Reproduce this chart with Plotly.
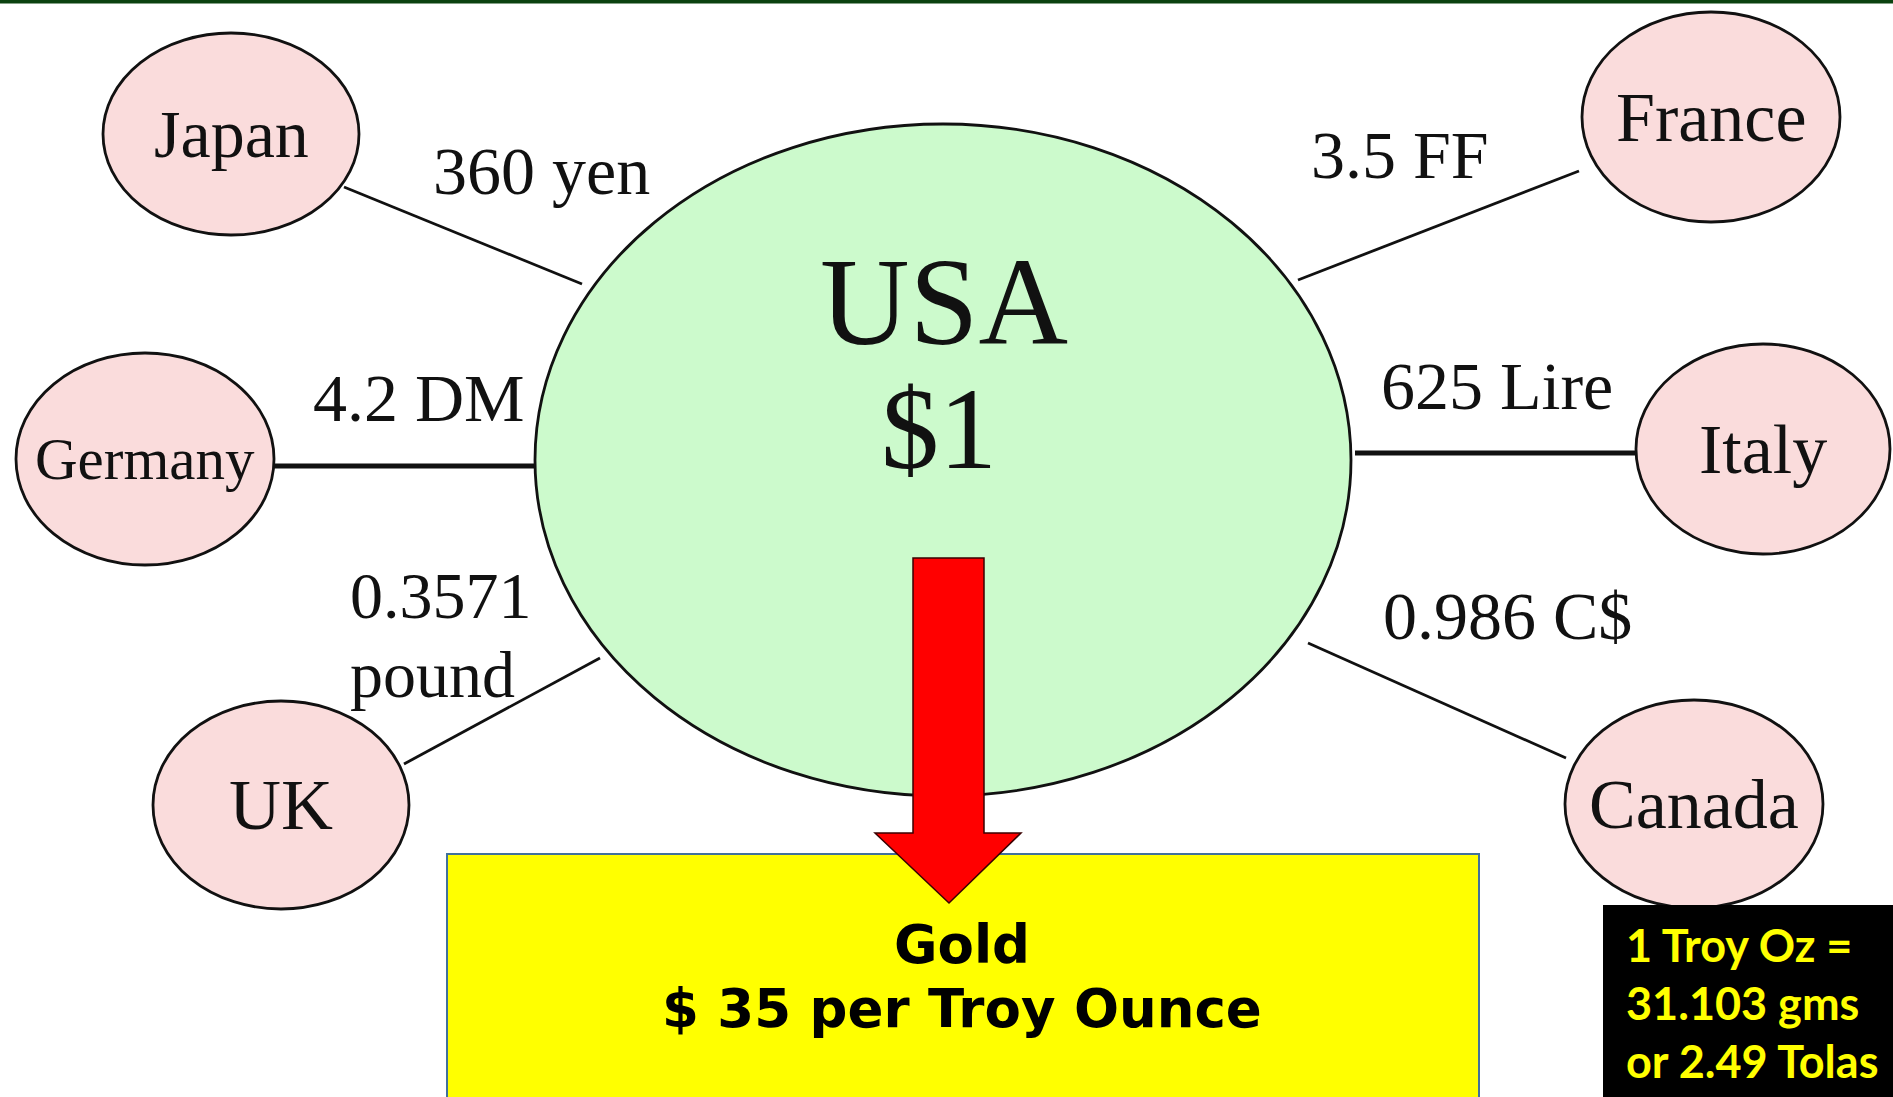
import plotly.graph_objects as go

# ---- data ----
countries = ["Japan", "France", "Germany", "Italy", "UK", "Canada"]
rates = ["360 yen", "3.5 FF", "4.2 DM", "625 Lire", "0.3571", "0.986 C$"]
rate_units_extra = ["", "", "", "", "pound", ""]
center_label = ["USA", "$1"]
gold_lines = ["Gold", "$ 35 per Troy Ounce"]
note_lines = ["1 Troy Oz =", "31.103 gms", "or 2.49 Tolas"]

# ---- layout geometry (pixels, y downward) ----
W, H = 1893, 1097
node_pos = {  # cx, cy, rx, ry
    "Japan": (231, 134, 128, 101),
    "France": (1711, 117, 129, 105),
    "Germany": (145, 459, 129, 106),
    "Italy": (1763, 449, 127, 105),
    "UK": (281, 805, 128, 104),
    "Canada": (1694, 804, 129, 104),
}
name_size = {"Japan": 68, "France": 70, "Germany": 59, "Italy": 70, "UK": 72, "Canada": 70}
usa_pos = (943, 460, 408, 336)
edges = {  # x0, y0, x1, y1, width
    "Japan": (344, 187, 582, 284, 2.8),
    "France": (1579, 171, 1298, 280, 2.8),
    "Germany": (273, 466, 535, 466, 5),
    "Italy": (1636, 453, 1355, 453, 5),
    "UK": (404, 764, 600, 658, 2.8),
    "Canada": (1566, 758, 1308, 643, 2.8),
}
rate_pos = {
    "Japan": (541, 171, "center"),
    "France": (1400, 155, "center"),
    "Germany": (419, 398, "center"),
    "Italy": (1497, 386, "center"),
    "UK": (348, 595, "left"),
    "Canada": (1507, 616, "center"),
}

fig = go.Figure()
fig.add_trace(go.Scatter(x=[0, W], y=[0, H], mode="markers",
                         marker=dict(opacity=0), hoverinfo="skip", showlegend=False))

shapes = []
# top border
shapes.append(dict(type="rect", xref="x", yref="y", x0=0, x1=W, y0=0, y1=3.5,
                   fillcolor="#0b420f", line=dict(width=0)))
# edges
for c in countries:
    x0, y0, x1, y1, w = edges[c]
    shapes.append(dict(type="line", xref="x", yref="y", x0=x0, y0=y0, x1=x1, y1=y1,
                       line=dict(color="#111111", width=w)))
# USA node
cx, cy, rx, ry = usa_pos
shapes.append(dict(type="circle", xref="x", yref="y", x0=cx - rx, x1=cx + rx,
                   y0=cy - ry, y1=cy + ry, fillcolor="#ccfacc",
                   line=dict(color="#111111", width=2.8)))
# country nodes
for c in countries:
    cx, cy, rx, ry = node_pos[c]
    shapes.append(dict(type="circle", xref="x", yref="y", x0=cx - rx, x1=cx + rx,
                       y0=cy - ry, y1=cy + ry, fillcolor="#fadcdc",
                       line=dict(color="#111111", width=2.8)))
# gold box
shapes.append(dict(type="rect", xref="x", yref="y", x0=447, x1=1479, y0=854, y1=H + 5,
                   fillcolor="#ffff00", line=dict(color="#41719c", width=2)))
# red arrow
arrow = "M 913,558 L 984,558 L 984,833 L 1021,833 L 949,903 L 875,833 L 913,833 Z"
shapes.append(dict(type="path", xref="x", yref="y", path=arrow,
                   fillcolor="#ff0000", line=dict(color="#3a0000", width=1.5)))
# black note box
shapes.append(dict(type="rect", xref="x", yref="y", x0=1603, x1=W + 5, y0=905, y1=H + 5,
                   fillcolor="#000000", line=dict(width=0)))

ann = []
serif = "Liberation Serif"
for c in countries:
    cx, cy, rx, ry = node_pos[c]
    ann.append(dict(x=cx, y=cy, xref="x", yref="y", text=c, showarrow=False,
                    font=dict(family=serif, size=name_size[c], color="#111111"),
                    xanchor="center", yanchor="middle"))
for c, r, extra in zip(countries, rates, rate_units_extra):
    x, y, anc = rate_pos[c]
    sz = 66 if extra else 68
    ann.append(dict(x=x, y=y, xref="x", yref="y", text=r, showarrow=False,
                    font=dict(family=serif, size=sz, color="#111111"),
                    xanchor=anc, yanchor="middle"))
    if extra:
        ann.append(dict(x=x, y=y + 79, xref="x", yref="y", text=extra, showarrow=False,
                        font=dict(family=serif, size=sz, color="#111111"),
                        xanchor=anc, yanchor="middle"))
# USA labels
ann.append(dict(x=944, y=302, xref="x", yref="y", text=center_label[0], showarrow=False,
                font=dict(family=serif, size=124, color="#111111"), yanchor="middle"))
ann.append(dict(x=939, y=429, xref="x", yref="y", text=center_label[1], showarrow=False,
                font=dict(family=serif, size=116, color="#111111"), yanchor="middle"))
# gold text
for i, t in enumerate(gold_lines):
    ann.append(dict(x=962, y=944 + 64 * i, xref="x", yref="y", text="<b>" + t + "</b>",
                    showarrow=False, yanchor="middle",
                    font=dict(family="DejaVu Sans", size=53, color="#000000")))
# note text
for i, t in enumerate(note_lines):
    ann.append(dict(x=1624, y=945 + 58 * i, xref="x", yref="y", text="<b>" + t + "</b>",
                    showarrow=False, xanchor="left", yanchor="middle",
                    font=dict(family="Lato", size=45, color="#ffff00")))

fig.update_layout(
    width=W, height=H, margin=dict(l=0, r=0, t=0, b=0),
    paper_bgcolor="white", plot_bgcolor="white",
    xaxis=dict(range=[0, W], visible=False, fixedrange=True),
    yaxis=dict(range=[H, 0], visible=False, fixedrange=True),
    shapes=shapes, annotations=ann, showlegend=False,
)
fig.write_html("out.html", config={"displayModeBar": False},
               post_script="document.body.style.margin='0px';document.body.style.overflow='hidden';")
